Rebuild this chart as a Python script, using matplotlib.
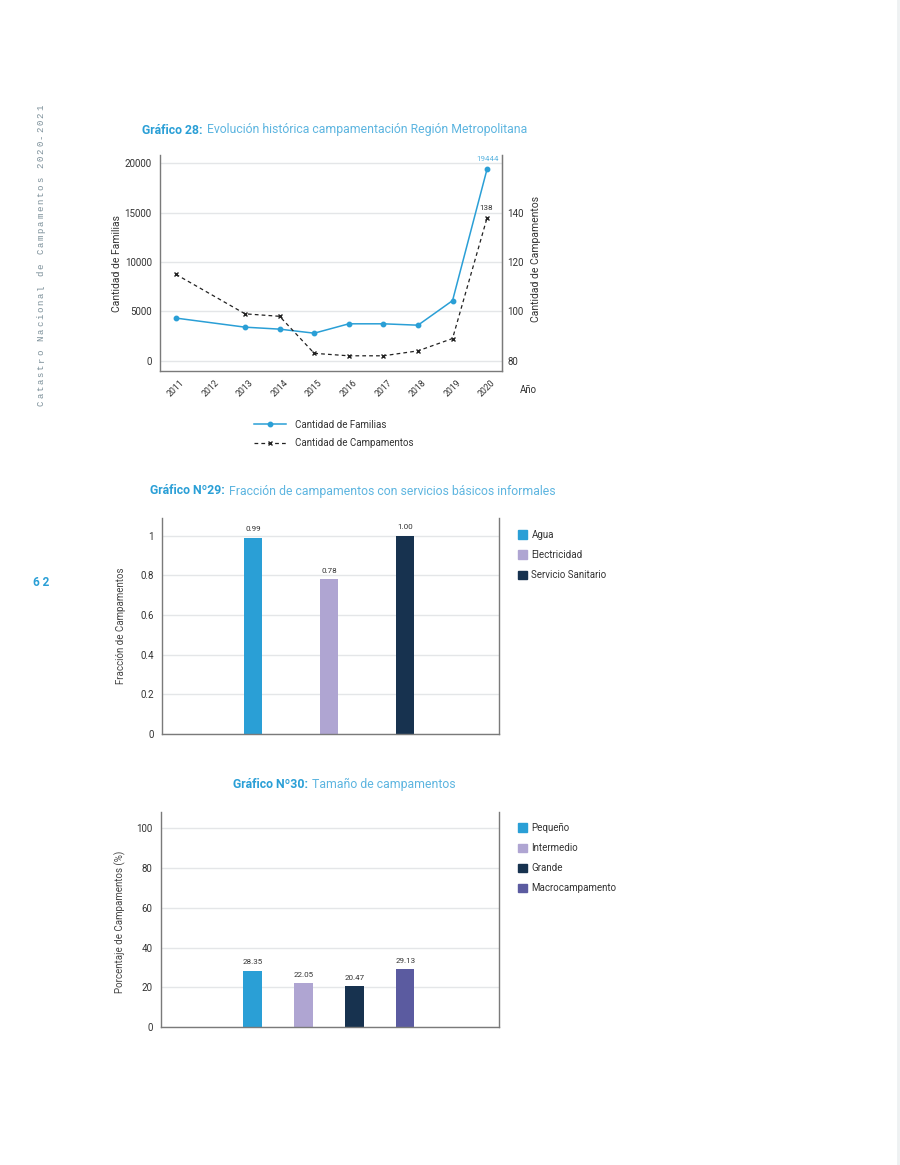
import matplotlib
matplotlib.use("Agg")
import matplotlib.pyplot as plt
from matplotlib.patches import Patch
from matplotlib.lines import Line2D

plt.rcParams["font.family"] = ["Roboto", "DejaVu Sans"]
plt.rcParams["font.size"] = 7

# --- data -------------------------------------------------------------
years = ["2011", "2012", "2013", "2014", "2015", "2016", "2017", "2018", "2019", "2020"]
# 2012 has no observation in the source chart
data_years_idx = [0, 2, 3, 4, 5, 6, 7, 8, 9]
familias = [4320, 3400, 3200, 2790, 3740, 3740, 3600, 6090, 19444]
campamentos = [115, 99, 98, 83, 82, 82, 84, 89, 138]

servicios = ["Agua", "Electricidad", "Servicio Sanitario"]
servicios_frac = [0.99, 0.78, 1.00]

tamanos = ["Pequeño", "Intermedio", "Grande", "Macrocampamento"]
tamanos_pct = [28.35, 22.05, 20.47, 29.13]

BLUE = "#2A9FD6"
BLUE_LIGHT = "#5DB5E0"
LILAC = "#AFA5D2"
NAVY = "#17324F"
PURPLE = "#5B5BA0"
GRID = "#E4E6E8"
SPINE = "#7A7A7A"
TXT = "#333333"

W, H = 900, 1165
fig = plt.figure(figsize=(W / 100, H / 100), dpi=100)


def box(left, top, right, bottom):
    return [left / W, 1 - bottom / H, (right - left) / W, (bottom - top) / H]


def style_axes(ax):
    ax.spines["top"].set_visible(False)
    for s in ("left", "right", "bottom"):
        ax.spines[s].set_color(SPINE)
        ax.spines[s].set_linewidth(1.0)
    ax.tick_params(length=0, colors=TXT, labelsize=7, pad=6)
    ax.grid(True, axis="y", color=GRID, linewidth=1.0)
    ax.set_axisbelow(True)


def title(x, y, bold, rest, size=8.8):
    t = fig.text(x / W, 1 - y / H, bold, color=BLUE, fontsize=size,
                 fontweight="bold", va="center", ha="left")
    fig.axes[0].annotate(rest, xy=(1, 0.5), xycoords=t, xytext=(3, 0),
                         textcoords="offset points", va="center", ha="left",
                         color=BLUE_LIGHT, fontsize=size)


# --- side decorations -------------------------------------------------
side = "Catastro Nacional de Campamentos 2020-2021"
for i, ch in enumerate(side):
    fig.text(41 / W, 1 - (403 - i * 7.2) / H, ch, rotation=90, fontsize=6.5,
             family="Liberation Mono", color="#7A8E98", ha="center", va="center")
fig.text(41 / W, 1 - 582 / H, "6 2", color=BLUE, fontsize=8.5,
         fontweight="bold", ha="center", va="center")
fig.add_artist(Line2D([898 / W, 898 / W], [0, 1], color="#EEF1F2", linewidth=2))

# --- Gráfico 28 -------------------------------------------------------
ax1 = fig.add_axes(box(160, 155, 502, 371))
style_axes(ax1)
ax1.set_xlim(-0.46, 9.43)
ax1.set_ylim(-1040, 20840)
ax1.set_yticks([0, 5000, 10000, 15000, 20000])
ax1.set_xticks(range(len(years)))
ax1.set_xticklabels(years, rotation=45, ha="center", fontsize=6.3)
ax1.tick_params(axis="x", pad=5)
ax1.set_ylabel("Cantidad de Familias", color=TXT, fontsize=7.5)
ax1.yaxis.set_label_coords((122 - 160) / 342, 0.5)

l1, = ax1.plot(data_years_idx, familias, color=BLUE, linewidth=1.1,
               marker="o", markersize=3.2, label="Cantidad de Familias")
ax1.annotate(f"{familias[-1]}", xy=(data_years_idx[-1], familias[-1]),
             xytext=(0, 5), textcoords="offset points", ha="center",
             va="bottom", color=BLUE_LIGHT, fontsize=5.8)

ax2 = ax1.twinx()
for s in ("top", "left", "bottom"):
    ax2.spines[s].set_visible(False)
ax2.spines["right"].set_color(SPINE)
ax2.tick_params(length=0, colors=TXT, labelsize=7, pad=4)
lo, hi = ax1.get_ylim()
ax2.set_ylim(80 + lo / 250, 80 + hi / 250)
ax2.set_yticks([80, 100, 120, 140])
ax2.set_ylabel("Cantidad de Campamentos", color=TXT, fontsize=7.5)
ax2.yaxis.set_label_coords((531 - 160) / 342, 0.52)
l2, = ax2.plot(data_years_idx, campamentos, color="#222222", linewidth=0.9,
               linestyle=(0, (3, 2.5)), marker="x", markersize=3,
               markeredgewidth=1, label="Cantidad de Campamentos")
ax2.annotate(f"{campamentos[-1]}", xy=(data_years_idx[-1], campamentos[-1]),
             xytext=(-1, 5), textcoords="offset points", ha="center",
             va="bottom", color=TXT, fontsize=5.8)

fig.text(528 / W, 1 - 390 / H, "Año", color=TXT, fontsize=7,
         ha="center", va="center")
ax1.legend(handles=[l1, l2], loc="upper left", frameon=False,
           bbox_to_anchor=(245 / W, 1 - 411 / H),
           bbox_transform=fig.transFigure, handlelength=3.3,
           handletextpad=0.9, labelspacing=0.85, fontsize=7,
           labelcolor=TXT)
title(142, 130, "Gráfico 28:", "Evolución histórica campamentación Región Metropolitana")

# --- Gráfico 29 -------------------------------------------------------
ax3 = fig.add_axes(box(162, 518, 499, 734))
style_axes(ax3)
x3 = range(len(servicios))
ax3.set_xlim(-1.2, 3.24)
ax3.set_ylim(0, 1.09)
ax3.set_yticks([0, 0.2, 0.4, 0.6, 0.8, 1])
ax3.set_yticklabels(["0", "0.2", "0.4", "0.6", "0.8", "1"])
ax3.set_xticks([])
bars3 = ax3.bar(x3, servicios_frac, width=0.24,
                color=[BLUE, LILAC, NAVY], label=servicios)
for b, v in zip(bars3, servicios_frac):
    ax3.annotate(f"{v:.2f}", xy=(b.get_x() + b.get_width() / 2, v),
                 xytext=(0, 4), textcoords="offset points", ha="center",
                 va="bottom", color=TXT, fontsize=5.8)
ax3.set_ylabel("Fracción de Campamentos", color="#444444", fontsize=7)
ax3.yaxis.set_label_coords((126 - 162) / 337, 0.5)
ax3.legend(handles=[Patch(color=c, label=l) for c, l in zip([BLUE, LILAC, NAVY], servicios)],
           loc="upper left", frameon=False, bbox_to_anchor=(509 / W, 1 - 521 / H),
           bbox_transform=fig.transFigure, handlelength=0.95, handleheight=0.95,
           handletextpad=0.45, labelspacing=1.05, fontsize=7, labelcolor=TXT)
title(150, 491, "Gráfico Nº29:", "Fracción de campamentos con servicios básicos informales")

# --- Gráfico 30 -------------------------------------------------------
ax4 = fig.add_axes(box(161, 812, 499, 1027))
style_axes(ax4)
x4 = range(len(tamanos))
ax4.set_xlim(-1.8, 4.84)
ax4.set_ylim(0, 108.2)
ax4.set_yticks([0, 20, 40, 60, 80, 100])
ax4.set_xticks([])
cols4 = [BLUE, LILAC, NAVY, PURPLE]
bars4 = ax4.bar(x4, tamanos_pct, width=0.36, color=cols4)
for b, v in zip(bars4, tamanos_pct):
    ax4.annotate(f"{v:.2f}", xy=(b.get_x() + b.get_width() / 2, v),
                 xytext=(0, 4), textcoords="offset points", ha="center",
                 va="bottom", color=TXT, fontsize=5.8)
ax4.set_ylabel("Porcentaje de Campamentos (%)", color="#444444", fontsize=7)
ax4.yaxis.set_label_coords((126 - 161) / 338, 0.49)
ax4.legend(handles=[Patch(color=c, label=l) for c, l in zip(cols4, tamanos)],
           loc="upper left", frameon=False, bbox_to_anchor=(509 / W, 1 - 814 / H),
           bbox_transform=fig.transFigure, handlelength=0.95, handleheight=0.95,
           handletextpad=0.45, labelspacing=1.05, fontsize=7, labelcolor=TXT)
title(233, 784, "Gráfico Nº30:", "Tamaño de campamentos")

fig.savefig("out.png", dpi=100)
